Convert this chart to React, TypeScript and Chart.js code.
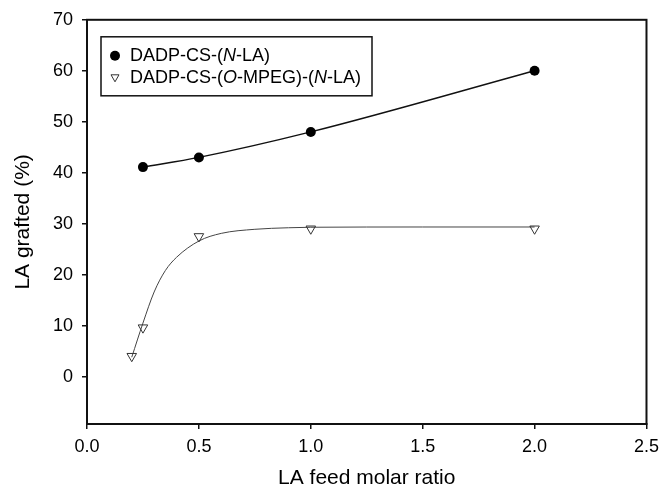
import React, { useEffect, useRef } from 'react';
import { Chart, registerables } from 'chart.js';

Chart.register(...registerables);

const FONT = "'Liberation Sans', Arial, Helvetica, sans-serif";

// axis ranges and tick labels
const xMin = 0;
const xMax = 2.5;
const yMin = -9.3;
const yMax = 70;
const xTicks = [0, 0.5, 1.0, 1.5, 2.0, 2.5];
const yTicks = [0, 10, 20, 30, 40, 50, 60, 70];

// DADP-CS-(N-LA): filled circles
const nlaX = [0.25, 0.5, 1.0, 2.0];
const nlaY = [41.1, 43.0, 48.0, 60.0];

// DADP-CS-(O-MPEG)-(N-LA): open triangles
const mpegX = [0.2, 0.25, 0.5, 1.0, 2.0];
const mpegY = [4.0, 9.6, 27.5, 29.0, 29.0];

// fitted curve for the MPEG series
const mpegFitX = [0.2, 0.25, 0.3, 0.35, 0.4, 0.5, 0.6, 0.75, 0.9, 1.0, 1.5, 2.0];
const mpegFitY = [3.8, 10.5, 16.6, 20.8, 23.4, 26.6, 28.1, 28.9, 29.2, 29.3, 29.35, 29.35];

const xTitle = 'LA feed molar ratio';
const yTitle = 'LA grafted (%)';

type Seg = { t: string; i?: boolean };
const legendNla: Seg[] = [{ t: 'DADP-CS-(' }, { t: 'N', i: true }, { t: '-LA)' }];
const legendMpeg: Seg[] = [
  { t: 'DADP-CS-(' },
  { t: 'O', i: true },
  { t: '-MPEG)-(' },
  { t: 'N', i: true },
  { t: '-LA)' },
];

const zip = (xs: number[], ys: number[]) => xs.map((x, k) => ({ x, y: ys[k] }));

const framePlugin = {
  id: 'frame',
  afterDraw(chart: any) {
    const { ctx, chartArea: a } = chart;
    ctx.save();
    ctx.strokeStyle = '#111';
    ctx.lineWidth = 2;
    ctx.strokeRect(a.left, a.top, a.right - a.left, a.bottom - a.top);
    ctx.restore();
  },
};

const drawSegs = (ctx: CanvasRenderingContext2D, segs: Seg[], x: number, y: number) => {
  let cx = x;
  for (const s of segs) {
    ctx.font = `${s.i ? 'italic ' : ''}18px ${FONT}`;
    ctx.fillText(s.t, cx, y);
    cx += ctx.measureText(s.t).width;
  }
};

const legendPlugin = {
  id: 'customLegend',
  afterDraw(chart: any) {
    const { ctx, chartArea: a } = chart;
    const bx = a.left + 14;
    const by = a.top + 17;
    const bw = 271;
    const bh = 59;
    ctx.save();
    ctx.fillStyle = '#fff';
    ctx.fillRect(bx, by, bw, bh);
    ctx.strokeStyle = '#111';
    ctx.lineWidth = 1.5;
    ctx.strokeRect(bx, by, bw, bh);
    // markers
    const mx = bx + 14;
    const y1 = by + 19;
    const y2 = by + 41;
    ctx.fillStyle = '#000';
    ctx.beginPath();
    ctx.arc(mx, y1, 5, 0, Math.PI * 2);
    ctx.fill();
    ctx.strokeStyle = '#333';
    ctx.lineWidth = 1;
    ctx.beginPath();
    ctx.moveTo(mx - 4, y2 - 3);
    ctx.lineTo(mx + 4, y2 - 3);
    ctx.lineTo(mx, y2 + 4);
    ctx.closePath();
    ctx.stroke();
    // text
    ctx.fillStyle = '#000';
    ctx.textBaseline = 'middle';
    ctx.textAlign = 'left';
    drawSegs(ctx, legendNla, bx + 29, y1);
    drawSegs(ctx, legendMpeg, bx + 29, y2);
    ctx.restore();
  },
};

export default function App() {
  const ref = useRef<HTMLCanvasElement | null>(null);

  useEffect(() => {
    if (!ref.current) return;
    const chart = new Chart(ref.current, {
      type: 'scatter',
      data: {
        datasets: [
          {
            label: 'DADP-CS-(N-LA)',
            data: zip(nlaX, nlaY),
            showLine: false,
            pointStyle: 'circle',
            pointRadius: 5,
            pointBackgroundColor: '#000',
            pointBorderColor: '#000',
            pointBorderWidth: 0,
          },
          {
            label: 'DADP-CS-(O-MPEG)-(N-LA)',
            data: zip(mpegX, mpegY),
            showLine: false,
            pointStyle: 'triangle',
            pointRotation: 180,
            pointRadius: 5.5,
            pointBackgroundColor: 'rgba(255,255,255,0)',
            pointBorderColor: '#333',
            pointBorderWidth: 1,
          },
          {
            label: 'N-LA fit',
            data: zip(nlaX, nlaY),
            showLine: true,
            pointRadius: 0,
            borderColor: '#111',
            borderWidth: 1.4,
            tension: 0.4,
            cubicInterpolationMode: 'monotone',
          },
          {
            label: 'MPEG fit',
            data: zip(mpegFitX, mpegFitY),
            showLine: true,
            pointRadius: 0,
            borderColor: '#444',
            borderWidth: 1,
            tension: 0.4,
            cubicInterpolationMode: 'monotone',
          },
        ],
      },
      options: {
        animation: false,
        responsive: true,
        maintainAspectRatio: false,
        layout: { padding: { left: 0, top: 16, right: 17, bottom: 0 } },
        plugins: { legend: { display: false }, tooltip: { enabled: false } },
        scales: {
          x: {
            type: 'linear',
            min: xMin,
            max: xMax,
            afterBuildTicks: (s: any) => {
              s.ticks = xTicks.map((v) => ({ value: v }));
            },
            afterFit: (s: any) => {
              s.height = 63;
            },
            ticks: {
              color: '#000',
              font: { family: FONT, size: 18 },
              padding: 7,
              maxRotation: 0,
              autoSkip: false,
              callback: (v: any) => Number(v).toFixed(1),
            },
            grid: {
              display: true,
              drawOnChartArea: false,
              drawTicks: true,
              tickLength: 5,
              color: '#111',
              lineWidth: 1.5,
            },
            border: { display: true, color: '#111', width: 2 },
            title: {
              display: true,
              text: xTitle,
              color: '#000',
              font: { family: FONT, size: 21 },
              padding: { top: 0, bottom: -4 },
            },
          },
          y: {
            type: 'linear',
            min: yMin,
            max: yMax,
            afterBuildTicks: (s: any) => {
              s.ticks = yTicks.map((v) => ({ value: v }));
            },
            afterFit: (s: any) => {
              s.width = 87;
            },
            ticks: {
              color: '#000',
              font: { family: FONT, size: 18 },
              padding: 9,
              autoSkip: false,
              callback: (v: any) => String(v),
            },
            grid: {
              display: true,
              drawOnChartArea: false,
              drawTicks: true,
              tickLength: 5,
              color: '#111',
              lineWidth: 1.5,
            },
            border: { display: true, color: '#111', width: 2 },
            title: {
              display: true,
              text: yTitle,
              color: '#000',
              font: { family: FONT, size: 21 },
              padding: { top: 11, bottom: 0 },
            },
          },
        },
      },
      plugins: [framePlugin, legendPlugin],
    } as any);
    return () => chart.destroy();
  }, []);

  return (
    <div style={{ position: 'fixed', left: 0, top: 0, width: 666, height: 487, background: '#fff' }}>
      <canvas ref={ref} />
    </div>
  );
}
